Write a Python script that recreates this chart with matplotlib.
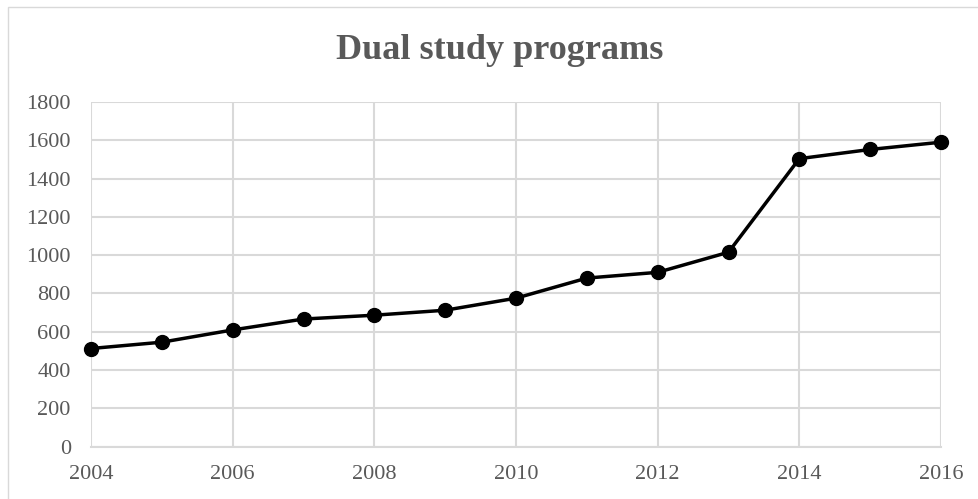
import matplotlib
matplotlib.use("Agg")
import matplotlib.pyplot as plt
from matplotlib.patches import Rectangle

years = [2004, 2005, 2006, 2007, 2008, 2009, 2010, 2011, 2012, 2013, 2014, 2015, 2016]
programs = [512, 545, 609, 666, 686, 712, 775, 880, 910, 1015, 1504, 1552, 1590]
x_ticks = [2004, 2006, 2008, 2010, 2012, 2014, 2016]
y_ticks = [0, 200, 400, 600, 800, 1000, 1200, 1400, 1600, 1800]

text_color = '#595959'
grid_color = '#d9d9d9'

plt.rcParams['font.family'] = ['Liberation Serif', 'DejaVu Serif']

fig = plt.figure(figsize=(9.79, 4.99), dpi=100)
W, H = 979, 499

# outer chart border (cut off at right and bottom)
fig.patches.append(Rectangle((8 / W, -0.01), 1.0, (499 - 7) / H + 0.01,
                             transform=fig.transFigure, fill=False,
                             edgecolor=grid_color, linewidth=1.0))

ax = fig.add_axes([91 / W, (H - 446.5) / H, (941 - 91) / W, (446.5 - 102) / H])

ax.plot(years, programs, color='black', linewidth=2.5, marker='o',
        markersize=10, zorder=3, clip_on=False)

ax.set_xlim(2004, 2016)
ax.set_ylim(0, 1800)
ax.set_xticks(x_ticks)
ax.set_yticks(y_ticks)
ax.grid(True, color=grid_color, linewidth=1.5)
ax.set_axisbelow(True)

for side in ['top', 'right', 'left']:
    ax.spines[side].set_visible(False)
ax.spines['bottom'].set_color(grid_color)
ax.spines['bottom'].set_linewidth(1.5)

ax.tick_params(axis='both', length=0, labelsize=16, labelcolor=text_color)
ax.tick_params(axis='y', pad=14.5)
ax.tick_params(axis='x', pad=13)

fig.text(500 / W, 1 - 59 / H, 'Dual study programs', ha='center', va='baseline',
         fontsize=26, fontweight='bold', color=text_color)

fig.savefig('out.png', dpi=100)
